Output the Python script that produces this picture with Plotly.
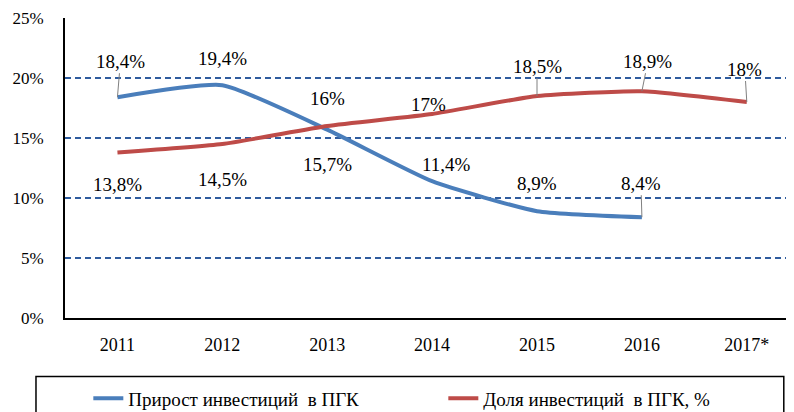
import plotly.graph_objects as go

years = ["2011", "2012", "2013", "2014", "2015", "2016", "2017*"]
growth = [18.4, 19.4, 15.7, 11.4, 8.9, 8.4]
share = [13.8, 14.5, 16.0, 17.0, 18.5, 18.9, 18.0]
growth_name = "Прирост инвестиций  в ПГК"
share_name = "Доля инвестиций  в ПГК, %"
y_ticks = [0, 5, 10, 15, 20, 25]

# label offsets (px) and whether a leader line is drawn
growth_off = [(3, -36, True), (0, -27, False), (0, 35, False), (14, -17, False), (0, -28, False), (-1, -34, True)]
share_off = [(0, 32, False), (0, 35, False), (0, -28, False), (-4, -10, False), (0, -30, True), (6, -30, True), (-2, -33, True)]

BLUE = "#4A7EBB"
RED = "#BE4B48"
FONT = "Liberation Serif, DejaVu Serif, serif"

def fmt(v):
    s = ("%g" % v).replace(".", ",")
    return s + "%"

fig = go.Figure()
fig.add_trace(go.Scatter(x=years[:len(growth)], y=growth, mode="lines", name=growth_name,
                         line=dict(color=BLUE, width=4, shape="spline", smoothing=0.5)))
fig.add_trace(go.Scatter(x=years, y=share, mode="lines", name=share_name,
                         line=dict(color=RED, width=4, shape="spline", smoothing=0.5)))

ann = []
for vals, offs in ((growth, growth_off), (share, share_off)):
    for i, v in enumerate(vals):
        ax, ay, lead = offs[i]
        ann.append(dict(x=i, y=v, xref="x", yref="y", text=fmt(v), showarrow=True,
                        ax=ax, ay=ay, arrowhead=0, arrowwidth=1, standoff=0,
                        arrowcolor="#808080" if lead else "rgba(0,0,0,0)",
                        font=dict(family=FONT, size=19, color="#000")))

fig.update_layout(
    width=786, height=404,
    margin=dict(l=57, r=0, t=10, b=94, autoexpand=False),
    paper_bgcolor="white", plot_bgcolor="white",
    font=dict(family=FONT, size=18, color="#000"),
    annotations=ann,
    showlegend=True,
    legend=dict(orientation="h", x=0.032, y=-0.205, xanchor="left", yanchor="top",
                bgcolor="rgba(0,0,0,0)", borderwidth=0, entrywidth=310, entrywidthmode="pixels",
                font=dict(family=FONT, size=19, color="#000")),
    shapes=[dict(type="rect", xref="paper", yref="paper", x0=-0.0398, x1=0.986, y0=-0.195, y1=-0.4,
                 line=dict(color="#000", width=1.5), fillcolor="rgba(0,0,0,0)", layer="below")],
)
fig.update_xaxes(type="category", range=[-0.5, 6.45], showline=True, linecolor="#000", linewidth=2,
                 showgrid=False, ticks="", tickfont=dict(family=FONT, size=18), ticklabelstandoff=9)
fig.update_yaxes(range=[0, 25], tickvals=y_ticks, ticktext=[f"{t}%" for t in y_ticks],
                 showline=True, linecolor="#000", linewidth=2, showgrid=True,
                 gridcolor="#2E5B9E", griddash="6px,4px", gridwidth=1.5, zeroline=False,
                 ticks="", tickfont=dict(family=FONT, size=17), ticklabelstandoff=16,
                 ticklabeloverflow="allow")

fig.write_html("out.html")
